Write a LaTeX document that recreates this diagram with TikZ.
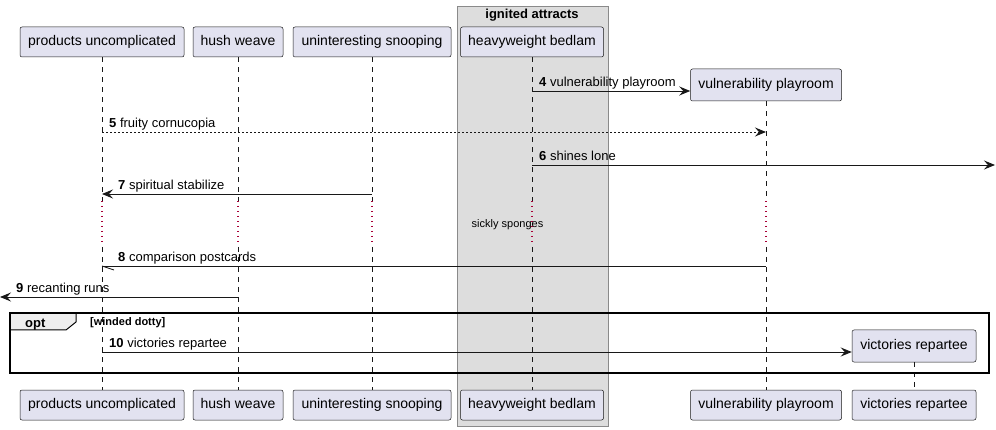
\documentclass[tikz,border=0pt]{standalone}
\usepackage{fontspec}
\setmainfont{Liberation Sans}
\usetikzlibrary{arrows.meta}
\definecolor{partfill}{HTML}{E2E2F0}
\definecolor{partborder}{HTML}{181818}
\definecolor{boxfill}{HTML}{DDDDDD}
\definecolor{boxborder}{HTML}{8A8A8A}
\definecolor{delaycol}{HTML}{A80036}
\definecolor{tabfill}{HTML}{EEEEEE}
\tikzset{
  part/.style={draw=partborder, fill=partfill, rounded corners=2pt, line width=0.5pt,
    minimum height=30pt, inner sep=0pt, text height=10.5pt, text depth=3pt,
    font=\fontsize{14}{16}\selectfont},
  life/.style={draw=partborder, dash pattern=on 5pt off 5pt, line width=0.5pt},
  delayline/.style={draw=delaycol, dash pattern=on 1.2pt off 3.8pt, line width=1.2pt},
  msg/.style={draw=partborder, line width=0.9pt, -{Stealth[length=11pt,width=9pt,inset=4pt]}},
  msgdash/.style={msg, dash pattern=on 2pt off 2pt},
  msgline/.style={draw=partborder, line width=0.9pt},
  mlabel/.style={anchor=base west, inner sep=0pt, font=\fontsize{13}{15}\selectfont},
  grpbox/.style={draw=boxborder, fill=boxfill, line width=1pt},
  frame/.style={draw=black, line width=1.5pt},
}
\begin{document}
\begin{tikzpicture}[x=1pt,y=-1pt]
\useasboundingbox (0,0) rectangle (996,430);
% group box
\draw[grpbox] (457,7) rectangle (608,426);
\node[anchor=base, inner sep=0pt, font=\fontsize{13}{15}\selectfont\bfseries] (grpt) at (532,19) {ignited attracts};
% y levels
\coordinate (y4) at (0,91);
\coordinate (y5) at (0,132);
\coordinate (y6) at (0,165);
\coordinate (y7) at (0,194);
\coordinate (y8) at (0,266);
\coordinate (y9) at (0,297);
\coordinate (y10) at (0,352);
\coordinate (dA) at (0,201);
\coordinate (dB) at (0,243);
\coordinate (dC) at (0,247);
\coordinate (leftend) at (0,297);
\coordinate (rightend) at (995,165);
% participants top
\node[part, minimum width=164pt] (pu) at (102,42) {products uncomplicated};
\node[part, minimum width=90pt] (hw) at (238,42) {hush weave};
\node[part, minimum width=158pt] (us) at (372,42) {uninteresting snooping};
\node[part, minimum width=143pt] (hb) at (532,42) {heavyweight bedlam};
\node[part, minimum width=151pt, minimum height=32pt] (vpt) at (766,85) {vulnerability playroom};
\node[part, minimum width=124pt, minimum height=32pt] (vrt) at (914,346) {victories repartee};
% participants bottom
\node[part, minimum width=164pt] (pub) at (102,405) {products uncomplicated};
\node[part, minimum width=90pt] (hwb) at (238,405) {hush weave};
\node[part, minimum width=158pt] (usb) at (372,405) {uninteresting snooping};
\node[part, minimum width=143pt] (hbb) at (532,405) {heavyweight bedlam};
\node[part, minimum width=151pt] (vpb) at (766,405) {vulnerability playroom};
\node[part, minimum width=124pt] (vrb) at (914,405) {victories repartee};
% lifelines
\foreach \t/\b in {pu/pub, hw/hwb, us/usb, hb/hbb, vpt/vpb}{
  \draw[life] (\t.south) -- (\t |- dA);
  \draw[delayline] (\t |- dA) -- (\t |- dB);
  \draw[life] (\t |- dC) -- (\b.north);
}
\draw[life] (vrt.south) -- (vrb.north);
% delay text
\node[inner sep=0pt, font=\fontsize{11}{13}\selectfont] (delay) at (507.5,225) {sickly sponges};
% opt frame
\draw[frame, line width=1pt, fill=tabfill] (10,313) -- (76,313) -- (76,322) -- (66,330) -- (10,330) -- cycle;
\draw[frame] (10,313) rectangle (989,373);
\node[anchor=base west, inner sep=0pt, font=\fontsize{13}{15}\selectfont\bfseries] (optl) at (25,327) {opt};
\node[anchor=base west, inner sep=0pt, font=\fontsize{11}{13}\selectfont\bfseries] (guard) at (90,326) {[winded dotty]};
% messages
\draw[msg] (hb |- y4) -- (vpt.west |- y4);
\node[mlabel] (l4) at ([xshift=7pt,yshift=4pt]hb |- y4) {\textbf{4} vulnerability playroom};
\draw[msgdash] (pu |- y5) -- (vpt |- y5);
\node[mlabel] (l5) at ([xshift=7pt,yshift=4pt]pu |- y5) {\textbf{5} fruity cornucopia};
\draw[msg] (hb |- y6) -- (rightend);
\node[mlabel] (l6) at ([xshift=7pt,yshift=4pt]hb |- y6) {\textbf{6} shines lone};
\draw[msg] (us |- y7) -- (pu |- y7);
\node[mlabel] (l7) at ([xshift=16pt,yshift=4pt]pu |- y7) {\textbf{7} spiritual stabilize};
\draw[msgline] (vpt |- y8) -- (pu |- y8);
\draw[msgline] (pu |- y8) -- ++(12,4);
\node[mlabel] (l8) at ([xshift=16pt,yshift=4pt]pu |- y8) {\textbf{8} comparison postcards};
\draw[msg] (hw |- y9) -- (leftend);
\node[mlabel] (l9) at ([xshift=16pt,yshift=4pt]leftend) {\textbf{9} recanting runs};
\draw[msg] (pu |- y10) -- (vrt.west |- y10);
\node[mlabel] (l10) at ([xshift=7pt,yshift=4pt]pu |- y10) {\textbf{10} victories repartee};
\end{tikzpicture}
\end{document}
